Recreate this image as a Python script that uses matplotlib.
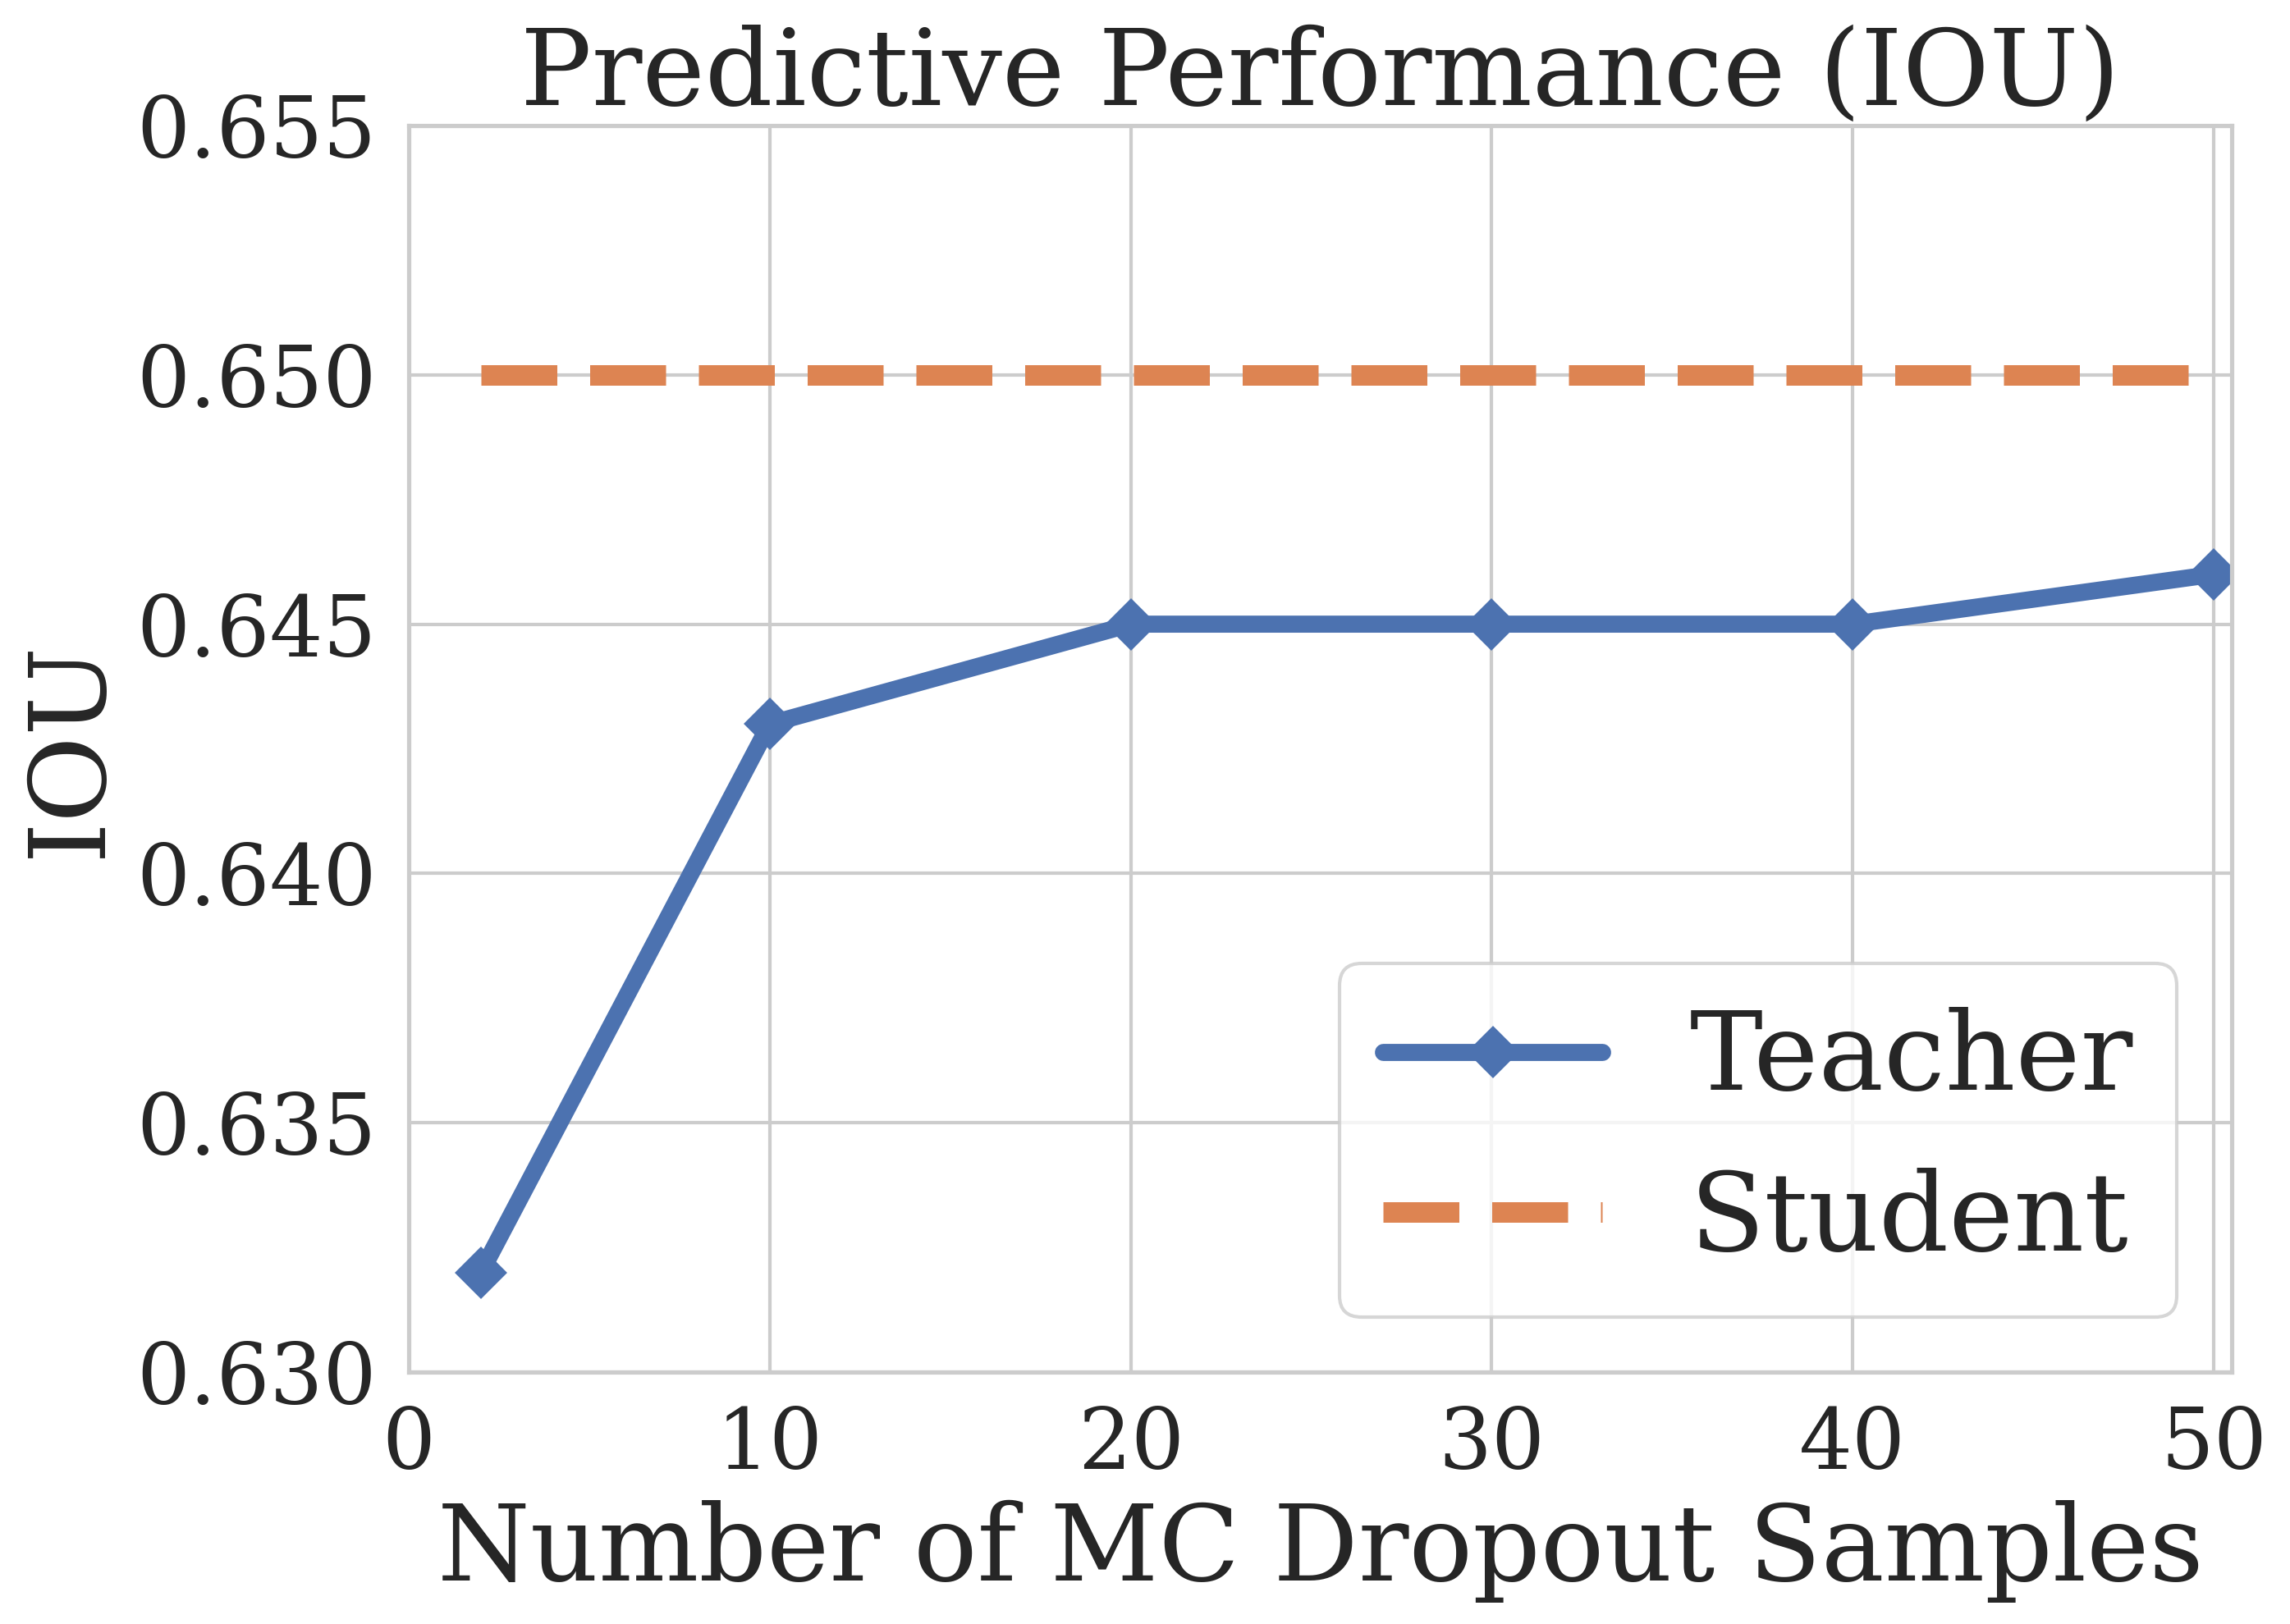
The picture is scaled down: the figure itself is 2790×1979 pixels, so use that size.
import matplotlib
matplotlib.use("Agg")
import matplotlib.pyplot as plt
import seaborn as sns

# data
mc_samples = [2, 10, 20, 30, 40, 50]
teacher_iou = [0.632, 0.643, 0.645, 0.645, 0.645, 0.646]
student_x = [2, 50]
student_iou = [0.650, 0.650]

sns.set_theme(style="whitegrid")
plt.rcParams["font.family"] = ["DejaVu Serif"]

fig = plt.figure(figsize=(9.3, 6.5967), dpi=300)
ax = fig.add_subplot(111)
fig.subplots_adjust(left=0.1785, right=0.9746, top=0.9227, bottom=0.1551)

pal = sns.color_palette("deep")
ax.plot(mc_samples, teacher_iou, marker="D", markersize=10, linewidth=5,
        color=pal[0], label="Teacher")
ax.plot(student_x, student_iou, linestyle="--", linewidth=6,
        color=pal[1], label="Student")

ax.set_xlim(0, 50.5)
ax.set_ylim(0.630, 0.655)
ax.set_xticks([0, 10, 20, 30, 40, 50])
ax.set_yticks([0.630, 0.635, 0.640, 0.645, 0.650, 0.655])
ax.tick_params(labelsize=24.5)

ax.set_title("Predictive Performance (IOU)", fontsize=31)
ax.set_xlabel("Number of MC Dropout Samples", fontsize=31)
ax.set_ylabel("IOU", fontsize=31)
ax.legend(loc="lower right", fontsize=32)

fig.savefig("out.png", dpi=300)
